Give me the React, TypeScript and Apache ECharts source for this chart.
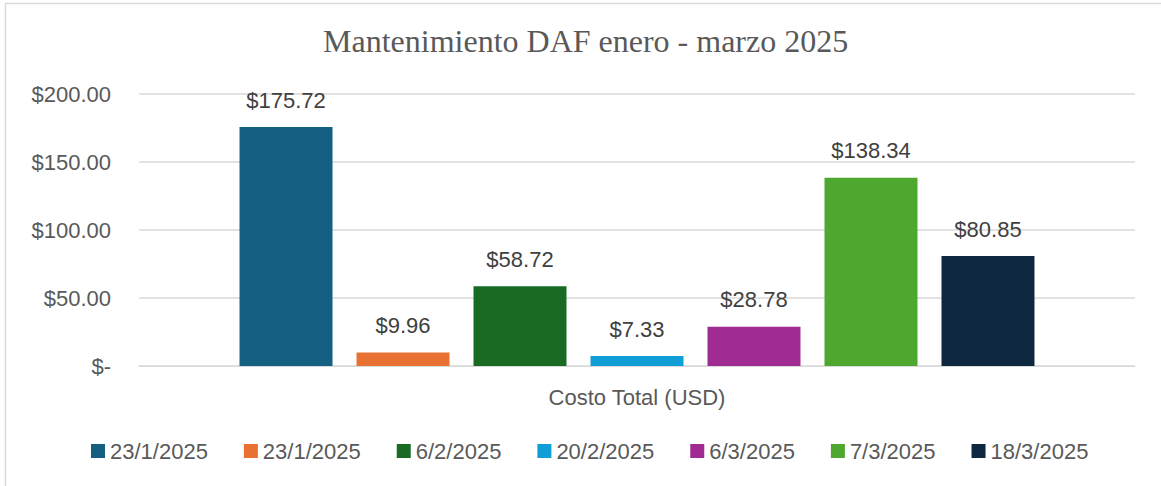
import React, { useEffect, useRef } from "react";
import * as echarts from "echarts";

const categories = ["Costo Total (USD)"];
const seriesNames = ["23/1/2025", "23/1/2025", "6/2/2025", "20/2/2025", "6/3/2025", "7/3/2025", "18/3/2025"];
const seriesValues = [175.72, 9.96, 58.72, 7.33, 28.78, 138.34, 80.85];
const seriesColors = ["#156082", "#E97132", "#196B24", "#0F9ED5", "#A02B93", "#4EA72E", "#0E2841"];
const yTicks = { min: 0, max: 200, interval: 50 };
const titleText = "Mantenimiento DAF enero - marzo 2025";

const SANS = "'Liberation Sans', Arial, sans-serif";

export default function App() {
  const ref = useRef<HTMLDivElement>(null);
  useEffect(() => {
    if (!ref.current) return;
    const chart = echarts.init(ref.current, null, { renderer: "svg" });
    const option: any = {
      animation: false,
      backgroundColor: "#ffffff",
      title: {
        text: titleText,
        left: 323,
        top: 25,
        padding: 0,
        textStyle: {
          fontFamily: "'Liberation Serif', 'Times New Roman', serif",
          fontSize: 32,
          fontWeight: "normal",
          color: "#595959",
        },
      },
      graphic: [
        {
          type: "rect",
          shape: { x: 5.5, y: 3.5, width: 1300, height: 700 },
          style: { fill: "none", stroke: "#D9D9D9", lineWidth: 1.5 },
          silent: true,
        },
      ],
      legend: {
        left: 91,
        top: 440,
        padding: 0,
        itemWidth: 14,
        itemHeight: 14,
        itemGap: 36,
        icon: "rect",
        textStyle: { fontFamily: SANS, fontSize: 22, color: "#595959" },
        data: seriesNames.map((n, i) => ({ name: n + "\u200b".repeat(i === 1 ? 1 : 0) })),
      },
      grid: { left: 139, right: 26, top: 94, bottom: 120, containLabel: false },
      xAxis: {
        type: "category",
        data: categories,
        axisLine: { show: true, lineStyle: { color: "#D9D9D9", width: 1 } },
        axisTick: { show: false },
        axisLabel: { margin: 20, fontFamily: SANS, fontSize: 22, color: "#595959" },
      },
      yAxis: {
        type: "value",
        min: yTicks.min,
        max: yTicks.max,
        interval: yTicks.interval,
        axisLine: { show: false },
        axisTick: { show: false },
        splitLine: { lineStyle: { color: "#D9D9D9", width: 1.5 } },
        axisLabel: {
          margin: 28,
          fontFamily: SANS,
          fontSize: 22,
          color: "#595959",
          formatter: (v: number) => (v === 0 ? "$-" : "$" + v.toFixed(2)),
        },
      },
      series: seriesNames.map((n, i) => ({
        name: n + "\u200b".repeat(i === 1 ? 1 : 0),
        type: "bar",
        data: [seriesValues[i]],
        barWidth: 93,
        barGap: "25.8%",
        itemStyle: { color: seriesColors[i] },
        label: {
          show: true,
          position: "top",
          distance: 16,
          fontFamily: SANS,
          fontSize: 22,
          color: "#404040",
          formatter: (p: any) => "$" + Number(p.value).toFixed(2),
        },
      })),
    };
    chart.setOption(option);
    return () => chart.dispose();
  }, []);
  return (
    <div style={{ position: "fixed", left: 0, top: 0, width: 1161, height: 486, background: "#fff" }}>
      <div ref={ref} style={{ width: 1161, height: 486 }} />
    </div>
  );
}
